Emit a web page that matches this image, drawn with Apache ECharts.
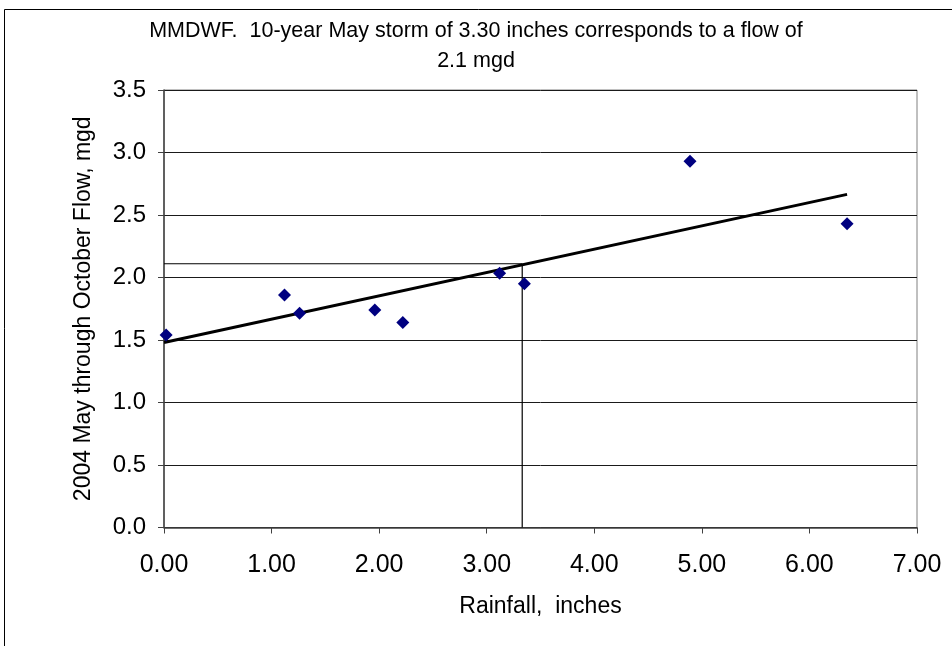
<!DOCTYPE html>
<html>
<head>
<meta charset="utf-8">
<script src="https://cdn.jsdelivr.net/npm/echarts@6/dist/echarts.min.js"></script>
<style>
  html, body { margin: 0; padding: 0; background: #fff; }
  #chart { width: 952px; height: 646px; }
</style>
</head>
<body>
<div id="chart"></div>
<script>
// Observed May rainfall (inches) and May–October flow (mgd)
const rainfall = [0.02, 1.12, 1.26, 1.96, 2.22, 3.12, 3.35, 4.89, 6.35];
const flow     = [1.54, 1.86, 1.715, 1.74, 1.64, 2.035, 1.95, 2.93, 2.43];

// Linear trend line end points
const trendX = [0, 6.35];
const trendY = [1.48, 2.665];

// 10-year storm lookup: rainfall and the corresponding flow
const stormRain = 3.33;
const stormFlow = 2.11;

const titleText = 'MMDWF.  10-year May storm of 3.30 inches corresponds to a flow of\n2.1 mgd';
const xName = 'Rainfall,  inches';
const yName = '2004 May through October Flow, mgd';

const FONT = '"Liberation Sans", Arial, sans-serif';

const chart = echarts.init(document.getElementById('chart'), null, { renderer: 'canvas' });

chart.setOption({
  backgroundColor: '#fff',
  animation: false,
  title: {
    text: titleText,
    left: 'center',
    top: 11,
    textStyle: { fontFamily: FONT, fontSize: 21.5, fontWeight: 'normal', color: '#000', lineHeight: 30 }
  },
  graphic: [{
    type: 'rect',
    shape: { x: 4.5, y: 9.5, width: 1000, height: 700 },
    style: { fill: 'none', stroke: '#000', lineWidth: 1 },
    silent: true,
    z: -1
  }],
  grid: {
    left: 164, top: 90, right: 35, bottom: 118.5,
    show: true,
    borderColor: '#808080',
    borderWidth: 1,
    backgroundColor: '#fff'
  },
  xAxis: {
    type: 'value',
    min: 0, max: 7, interval: 1,
    name: xName,
    nameLocation: 'middle',
    nameGap: 68,
    nameTextStyle: { fontFamily: FONT, fontSize: 23, color: '#000' },
    axisLine: { onZero: false, lineStyle: { color: '#404040', width: 1.5 } },
    axisTick: { show: true, inside: false, length: 6, lineStyle: { color: '#404040' } },
    axisLabel: { fontFamily: FONT, fontSize: 25, color: '#000', margin: 25,
                 formatter: v => v.toFixed(2) },
    splitLine: { show: false }
  },
  yAxis: {
    type: 'value',
    min: 0, max: 3.5, interval: 0.5,
    name: yName,
    nameLocation: 'middle',
    nameGap: 69,
    nameTextStyle: { fontFamily: FONT, fontSize: 23, color: '#000' },
    axisLine: { show: true, onZero: false, lineStyle: { color: '#404040', width: 1.5 } },
    axisTick: { show: true, inside: false, length: 6, lineStyle: { color: '#404040' } },
    axisLabel: { fontFamily: FONT, fontSize: 24, color: '#000', margin: 18,
                 formatter: v => v.toFixed(1) },
    splitLine: { show: true, lineStyle: { color: '#1a1a1a', width: 1 } }
  },
  series: [
    {
      name: 'storm-horizontal',
      type: 'line',
      data: [[0, stormFlow], [stormRain, stormFlow]],
      symbol: 'none',
      lineStyle: { color: '#000', width: 1.2 },
      z: 2
    },
    {
      name: 'storm-vertical',
      type: 'line',
      data: [[stormRain, 0], [stormRain, stormFlow]],
      symbol: 'none',
      lineStyle: { color: '#000', width: 1.2 },
      z: 2
    },
    {
      name: 'trend',
      type: 'line',
      data: trendX.map((x, i) => [x, trendY[i]]),
      symbol: 'none',
      lineStyle: { color: '#000', width: 3 },
      z: 3
    },
    {
      name: 'observed',
      type: 'scatter',
      data: rainfall.map((x, i) => [x, flow[i]]),
      symbol: 'diamond',
      symbolSize: [13, 13],
      itemStyle: { color: '#000080', opacity: 1 },
      z: 4
    }
  ]
});
</script>
</body>
</html>
